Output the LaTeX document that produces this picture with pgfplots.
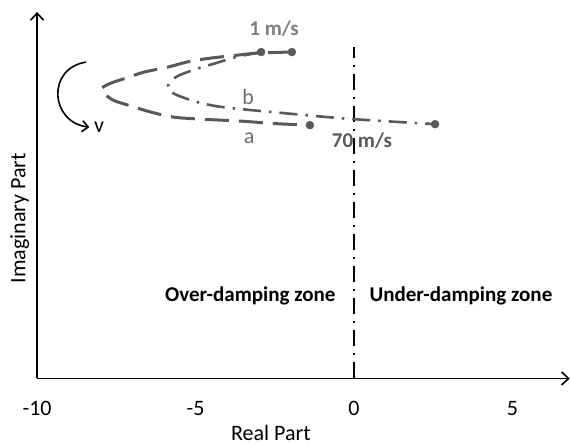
\documentclass[border=0pt]{standalone}
\usepackage{fontspec}
\setmainfont{Carlito}
\usepackage{pgfplots}
\pgfplotsset{compat=1.18}
\usetikzlibrary{arrows.meta}
\definecolor{cdark}{HTML}{595959}
\definecolor{clab}{HTML}{6E6E6E}
\definecolor{clight}{HTML}{7F7F7F}
\begin{document}
\begin{tikzpicture}[font=\fontsize{22}{26}\selectfont]
\begin{axis}[
  scale only axis,
  width=532pt, height=366pt,
  xmin=-10, xmax=6.81, ymin=0, ymax=36.6,
  axis lines=left,
  axis line style={line width=1.6pt, -{Straight Barb[length=7pt,width=13pt,line width=1.6pt]}},
  xtick={-10,-5,0,5}, xticklabels={-10,-5,0,5},
  ytick=\empty,
  major tick length=0pt,
  xticklabel style={font=\fontsize{22}{26}\selectfont, yshift=-19pt},
  clip=false,
]
% vertical boundary
\addplot[black, line width=2pt, dash pattern=on 16pt off 7pt on 2pt off 7pt] coordinates {(0,0) (0,33.1)};
% curve a
\addplot[cdark, line width=3pt, smooth, tension=0.55, dash pattern=on 24pt off 10pt] coordinates {
(-1.96,32.6) (-3.03,32.5) (-3.79,32.25) (-4.51,32.0) (-5.21,31.65) (-5.87,31.1) (-6.62,30.6) (-7.19,30.0) (-7.67,29.5) (-7.95,29.0) (-7.89,28.5) (-7.60,27.8) (-7.13,27.3) (-6.40,26.6) (-5.68,26.1) (-4.83,25.9) (-3.56,25.7) (-2.46,25.45) (-1.39,25.3)
};
% curve b
\addplot[cdark, line width=2.6pt, smooth, tension=0.55, dash pattern=on 18pt off 8pt on 2.5pt off 8pt] coordinates {
(-2.93,32.6) (-3.72,32.1) (-4.35,31.5) (-5.08,30.8) (-5.62,30.1) (-5.87,29.2) (-5.71,28.5) (-5.05,27.7) (-4.35,27.2) (-3.56,26.9) (-2.21,26.5) (-0.82,26.1) (0,25.9) (1.48,25.6) (2.56,25.4)
};
% end points
\addplot[only marks, mark=*, mark size=4pt, cdark] coordinates {(-1.96,32.6) (-1.39,25.3) (-2.93,32.6) (2.56,25.4)};
% labels
\node[font=\fontsize{21}{25}\selectfont\bfseries, text=clight] at (axis cs:-2.52,34.9) {1 m/s};
\node[font=\fontsize{21}{25}\selectfont\bfseries, text=cdark] at (axis cs:0.25,23.8) {70 m/s};
\node[text=clab] at (axis cs:-3.31,24.0) {a};
\node[text=clab] at (axis cs:-3.34,28.1) {b};
\node[text=black] at (axis cs:-8.04,25.1) {v};
\node[font=\fontsize{21}{25}\selectfont\bfseries, anchor=east] at (axis cs:-0.47,8.2) {Over-damping zone};
\node[font=\fontsize{21}{25}\selectfont\bfseries, anchor=west] at (axis cs:0.38,8.2) {Under-damping zone};
\draw[black, line width=1.6pt, -{Straight Barb[length=6pt,width=11pt,line width=1.6pt]}] (axis cs:-8.45,31.6) .. controls (axis cs:-9.7,31.0) and (axis cs:-9.6,25.6) .. (axis cs:-8.35,25.1);
\node at (axis cs:-2.62,-5.45) {Real Part};
\node[rotate=90] at (axis cs:-10.55,16.0) {Imaginary Part};
\path (axis cs:-11.17,-6.7) (axis cs:6.85,37.8);
\end{axis}
\end{tikzpicture}
\end{document}
